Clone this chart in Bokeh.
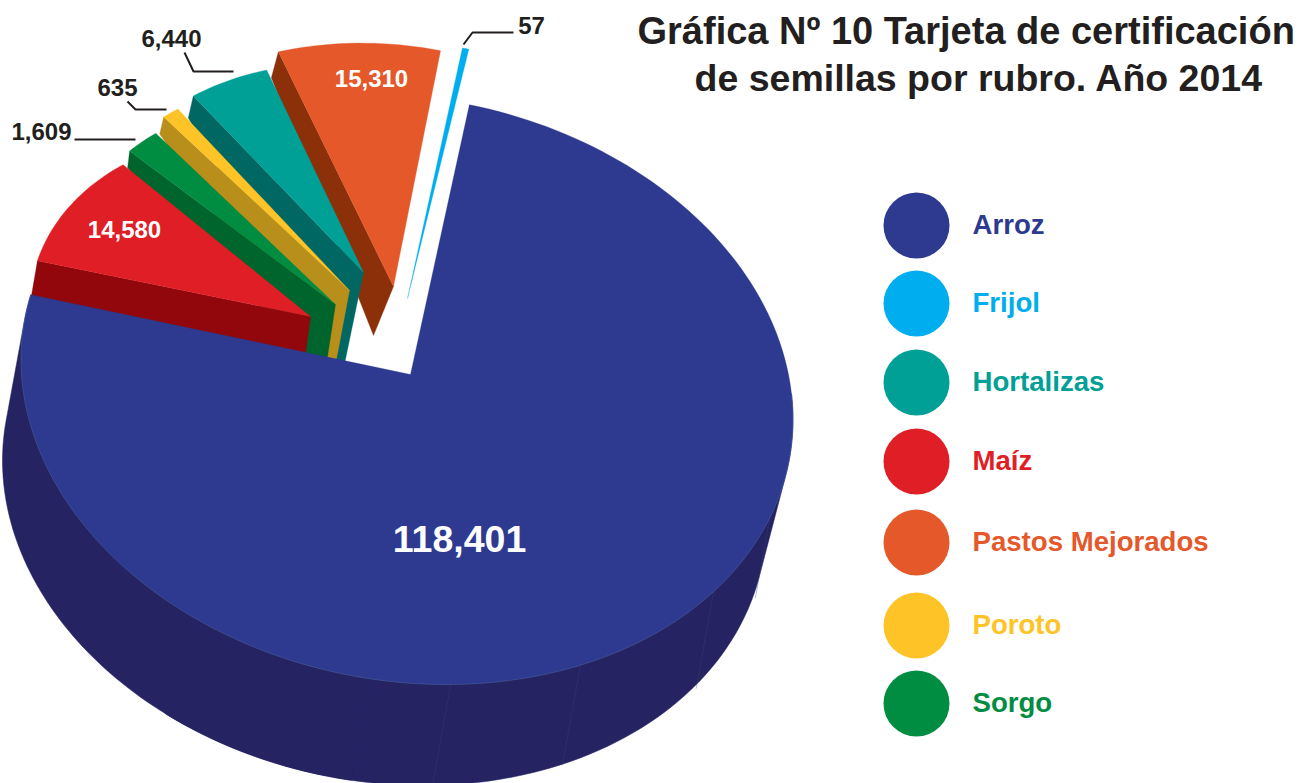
import numpy as np
from bokeh.embed import file_html
from bokeh.models import Range1d
from bokeh.plotting import figure
from bokeh.resources import INLINE
from bokeh.core.properties import value

# ---- data (legend order) ----
categories = ["Arroz", "Frijol", "Hortalizas", "Maíz", "Pastos Mejorados", "Poroto", "Sorgo"]
values = [118401, 57, 6440, 14580, 15310, 635, 1609]
value_labels = ["118,401", "57", "6,440", "14,580", "15,310", "635", "1,609"]
title_lines = ["Gráfica Nº 10 Tarjeta de certificación", "de semillas por rubro. Año 2014"]

# ---- colours ----
top_colors = ["#2d3a8f", "#00aeef", "#00a096", "#e01e26", "#e4582a", "#fec326", "#008d42"]
side_colors = ["#252362", "#00aeef", "#006763", "#92070b", "#8c300a", "#b98f1c", "#00642d"]

# ---- layout of the exploded illustration ----
W, H = 1299, 783
RX, SHEAR, RY = 386.0, 30.0, 293.5          # tilt of the disc on screen
MAIN_CENTRE = (406.5, 389.0)
BOTTOM_CENTRE = (384.0, 490.0)
BOTTOM_RX = 382.0
explode = {   # apex, arc centre, radius, start angle, sweep gain, outer depth, apex depth
    "Arroz": dict(apex=(410, 374), centre=MAIN_CENTRE, r=1.0, start=9.3, gain=1.008),
    "Frijol": dict(apex=(407, 298), centre=(407, 298), r=0.88, start=369.3, gain=8.4),
    "Pastos Mejorados": dict(apex=(393, 286), centre=(393, 286), r=0.825, start=338.8, gain=0.846,
                             d0=(-7, 26), d1=(-20, 49)),
    "Hortalizas": dict(apex=(363, 272), centre=(363, 272), r=0.71, start=321.6, gain=1.2,
                       d0=(-5, 22), d1=(-22, 106)),
    "Poroto": dict(apex=(349, 290), centre=(349, 290), r=0.725, start=318.4, gain=2.6,
                   d0=(-4, 17), d1=(-18, 95)),
    "Sorgo": dict(apex=(335, 304), centre=(335, 304), r=0.71, start=311.3, gain=2.09,
                  d0=(-2, 17), d1=(-11, 72)),
    "Maíz": dict(apex=(310, 316), centre=(283, 326), r=0.657, start=284.0, gain=1.1,
                 d0=(-6, 35), d1=(-5, 38)),
}
draw_order = ["Frijol", "Pastos Mejorados", "Hortalizas", "Poroto", "Sorgo", "Maíz", "Arroz"]
seam_angles = [173.5, 153.3, 127.4, 110.0]
seam_lengths = [1.0, 1.0, 0.97, 0.8]
legend_y = [224, 302, 381, 460, 541, 624, 702]
TOTAL = sum(values)


def disc(centre, r, phi_deg, rx=RX):
    phi = np.radians(phi_deg)
    u, v = np.sin(phi) * r, -np.cos(phi) * r
    return centre[0] + rx * u, centre[1] + SHEAR * u + RY * v


def hull(points):
    pts = sorted(set(points))
    def half(seq):
        out = []
        for q in seq:
            while len(out) > 1 and ((out[-1][0] - out[-2][0]) * (q[1] - out[-2][1])
                                    - (out[-1][1] - out[-2][1]) * (q[0] - out[-2][0])) <= 0:
                out.pop()
            out.append(q)
        return out[:-1]
    return half(pts) + half(pts[::-1])


p = figure(width=W, height=H, x_range=Range1d(0, W), y_range=Range1d(H, 0),
           output_backend="svg", toolbar_location=None, min_border=0,
           outline_line_color=None, background_fill_color="white")
p.axis.visible = False
p.grid.visible = False
p.styles = {"position": "absolute", "left": "0px", "top": "0px"}

for name in draw_order:
    i = categories.index(name)
    cfg = explode[name]
    sweep = values[i] / TOTAL * 360 * cfg["gain"]
    phis = np.linspace(cfg["start"], cfg["start"] + sweep, max(3, int(sweep / 1.5) + 2))
    ax, ay = disc(cfg["centre"], cfg["r"], phis)
    apex = cfg["apex"]
    if name == "Arroz":
        # the rim is drawn in two overlapping convex pieces so that it stays under the top face
        for lo, hi in ((85.0, 215.0), (185.0, cfg["start"] + sweep)):
            part = np.linspace(lo, hi, 80)
            bx, by = disc(BOTTOM_CENTRE, 1.0, part, rx=BOTTOM_RX)
            tx, ty = disc(MAIN_CENTRE, 1.0, part)
            outline = hull(list(zip(bx.tolist(), by.tolist())) + list(zip(tx.tolist(), ty.tolist())))
            p.patch([q[0] for q in outline], [q[1] for q in outline], fill_color=side_colors[i],
                    line_color=side_colors[i], line_width=0.5)
        sx0, sy0 = disc(MAIN_CENTRE, 1.0, np.array(seam_angles))
        ln = np.array(seam_lengths)
        p.segment(sx0, sy0, sx0 - 18 * ln, sy0 + 100 * ln, line_color="#2f4a72",
                  line_width=0.6, line_alpha=0.6)
    elif "d0" in cfg:
        d0, d1 = cfg["d0"], cfg["d1"]
        p.patch([ax[0], ax[0] + d0[0], apex[0] + d1[0], apex[0]],
                [ay[0], ay[0] + d0[1], apex[1] + d1[1], apex[1]],
                fill_color=side_colors[i], line_color=side_colors[i], line_width=0.3)
    p.patch([apex[0]] + ax.tolist(), [apex[1]] + ay.tolist(),
            fill_color=top_colors[i], line_color=top_colors[i], line_width=0.3)
    if name == "Arroz":
        tx, ty = disc(MAIN_CENTRE, 1.0, np.linspace(85, cfg["start"] + sweep, 130))
        p.line(tx, ty, line_color="#5f7fa8", line_width=0.5, line_alpha=0.7)

FONT = value("Liberation Sans")


def label(x, y, text, color, size, align="center"):
    p.text([x], [y], text=[text], text_color=color, text_font=FONT, text_font_style="bold",
           text_font_size=f"{size}px", text_align=align, text_baseline="middle")


# value labels
inner = {"Arroz": (459, 538, 37.5), "Pastos Mejorados": (371, 78, 24), "Maíz": (124, 229, 24)}
outer = {"Frijol": (531, 25), "Hortalizas": (171, 38), "Poroto": (117, 87), "Sorgo": (41, 131)}
for name, (x, y, s) in inner.items():
    label(x, y, value_labels[categories.index(name)], "white", s)
for name, (x, y) in outer.items():
    label(x, y, value_labels[categories.index(name)], "#231f20", 24)

leaders = [([463, 472, 513], [44, 32, 32]), ([184, 193, 233], [52, 71, 71]),
           ([127, 135, 166], [101, 109, 109]), ([74, 135], [139, 139])]
for xs, ys in leaders:
    p.line(xs, ys, line_color="#231f20", line_width=2)

# legend
p.scatter([916] * len(categories), [y + 1 for y in legend_y], size=66, marker="circle",
          fill_color=top_colors, line_color=None)
for cat, y, c in zip(categories, legend_y, top_colors):
    label(972, y, cat, c, 27.6, align="left")

# title
label(637, 30, title_lines[0], "#231f20", 38, align="left")
label(694, 77, title_lines[1], "#231f20", 37.5, align="left")

open("out.html", "w").write(file_html(p, INLINE))
